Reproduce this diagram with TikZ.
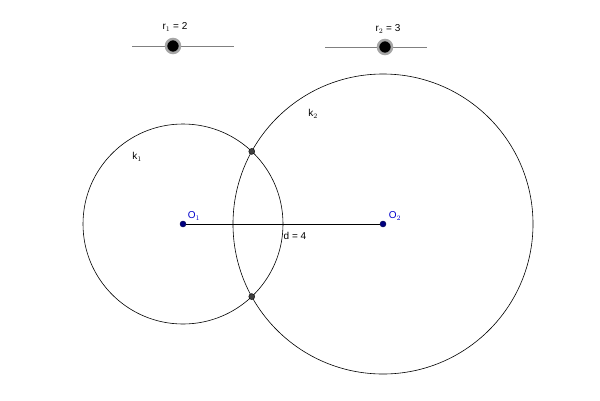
\documentclass[tikz,border=0pt]{standalone}
\usepackage{fontspec}
\setmainfont{Liberation Sans}
\usepackage{tikz}
\usetikzlibrary{positioning,calc}
\definecolor{ptblue}{HTML}{00007F}

\begin{document}
\begin{tikzpicture}[
  x=1pt, y=-1pt,
  center/.style={circle, fill=ptblue, draw=ptblue!60!black, inner sep=0pt, minimum size=6pt},
  cross/.style={circle, fill=darkgray, draw=black, inner sep=0pt, minimum size=6pt},
  knob/.style={circle, fill=black, draw=gray!70, line width=2.5pt, inner sep=0pt, minimum size=14pt},
  lbl/.style={font=\normalsize, inner sep=1pt},
  bluelbl/.style={font=\normalsize, text=blue!80!black, inner sep=1pt},
  track/.style={gray, line width=0.6pt},
  curve/.style={line width=0.6pt}
]
\useasboundingbox (0,0) rectangle (600,400);
% sliders
\coordinate (s1a) at (132,46);
\coordinate (s1b) at (234,46);
\coordinate (s2a) at (325,47);
\coordinate (s2b) at (427,47);
\draw[track] (s1a) -- (s1b);
\draw[track] (s2a) -- (s2b);
\node[knob] (knob1) at (173,46) {};
\node[knob] (knob2) at (385,47) {};
\node[lbl] (r1) at (175,27) {r$_1$ = 2};
\node[lbl] (r2) at (388,29) {r$_2$ = 3};
% circles
\coordinate (c1) at (183,224);
\coordinate (c2) at (383,224);
\draw[curve] (c1) circle (100);
\draw[curve] (c2) circle (150);
\node[center] (o1) at (c1) {};
\node[center] (o2) at (c2) {};
\draw[curve] (o1) -- (o2);
\node[cross] (a) at (251.75,151.4) {};
\node[cross] (b) at (251.75,296.6) {};
\node[lbl] (k1) at (137,157) {k$_1$};
\node[lbl] (k2) at (313,114) {k$_2$};
\node[bluelbl] (o1l) at (194,216) {O$_1$};
\node[bluelbl] (o2l) at (395,216) {O$_2$};
\node[lbl] (d) at (295,236) {d = 4};
\end{tikzpicture}
\end{document}
